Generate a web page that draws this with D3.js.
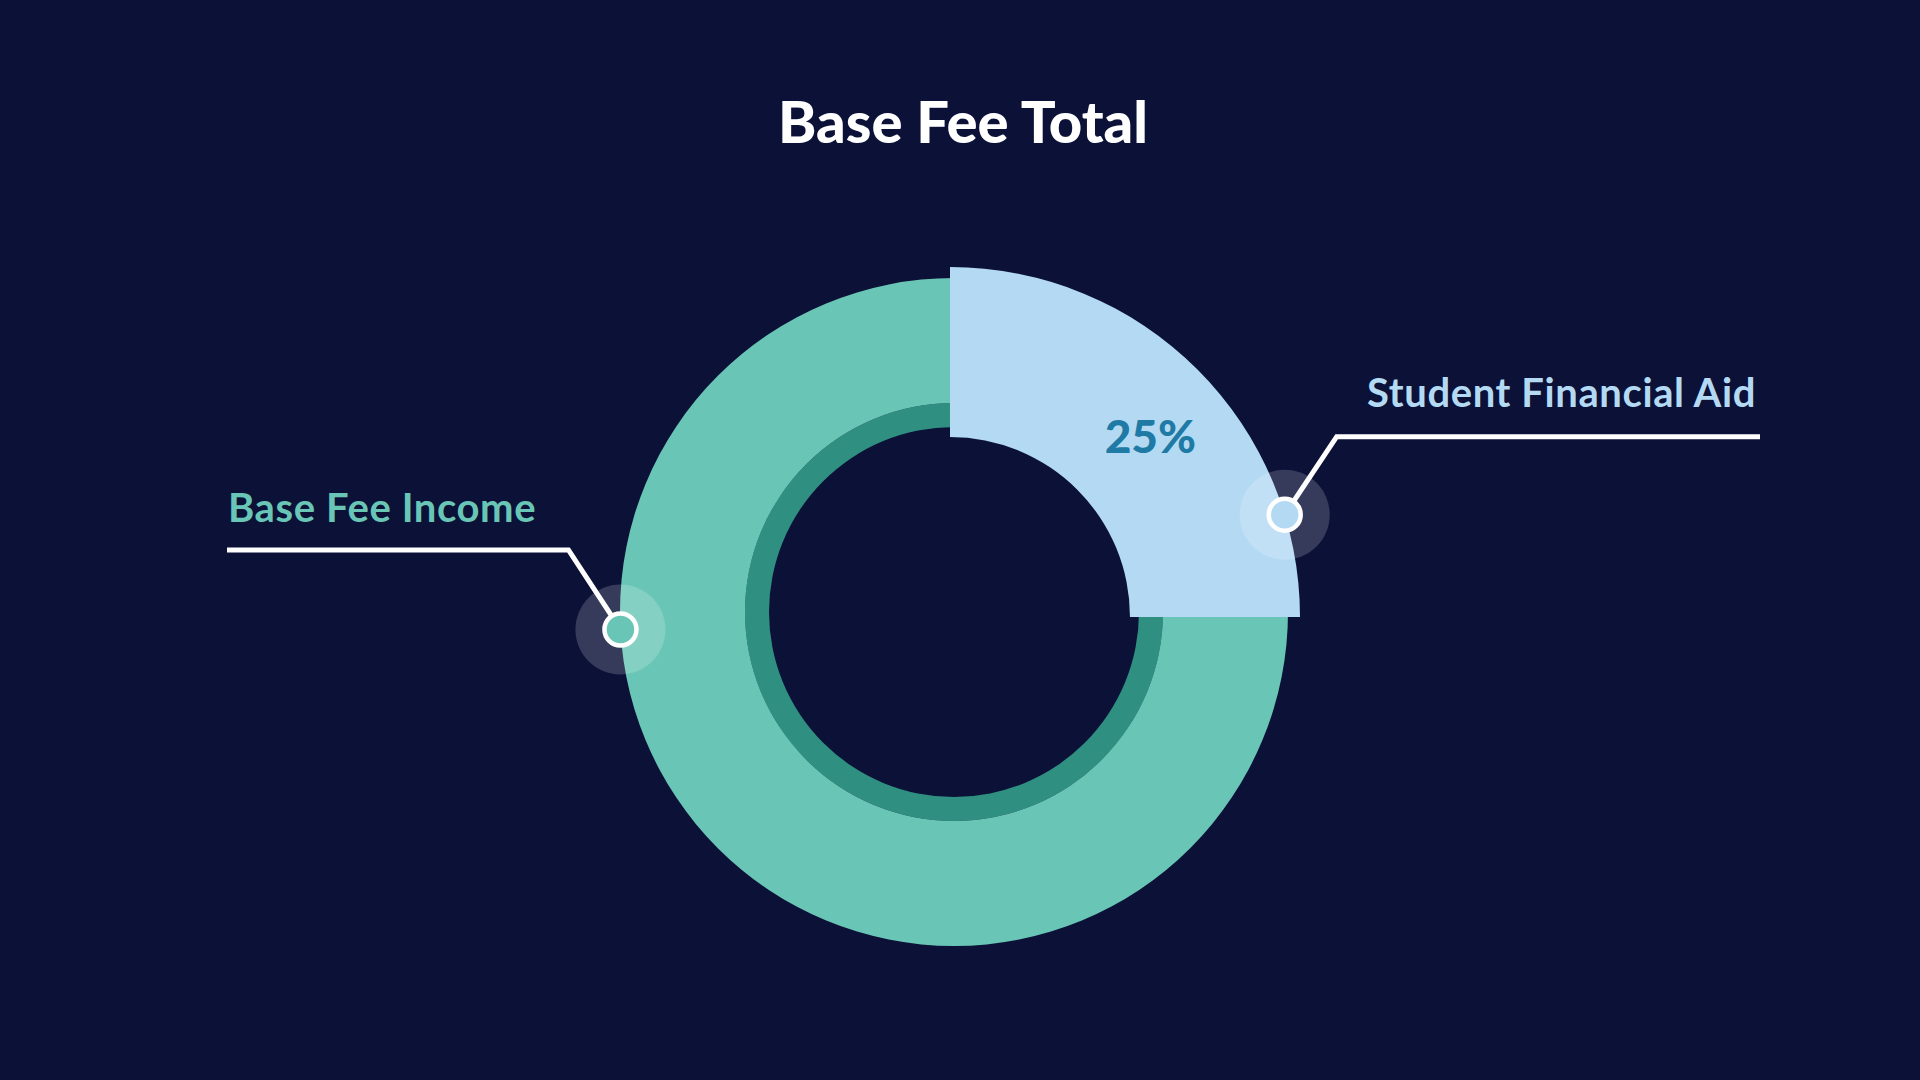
<!DOCTYPE html>
<html>
<head>
<meta charset="utf-8">
<script src="https://cdn.jsdelivr.net/npm/d3@7"></script>
<style>
  html, body { margin: 0; padding: 0; background: #0c1137; }
  svg { display: block; }
  text { font-family: Lato, "Noto Sans", sans-serif; }
</style>
</head>
<body>
<div class="chart"></div>
<script>
// chart data
var title = "Base Fee Total";
var categories = ["Student Financial Aid", "Base Fee Income"];
var shares = [25, 75];
var shareLabels = ["25%", ""];

var width = 1920, height = 1080;
var cx = 954, cy = 612;

var colors = {
  bg: "#0c1137",
  teal: "#69c6b6",
  tealDark: "#2f9082",
  blue: "#b4daf3",
  pct: "#1f7ba5"
};

var svg = d3.select(".chart").append("svg")
    .attr("width", width)
    .attr("height", height);

svg.append("rect")
    .attr("width", width)
    .attr("height", height)
    .attr("fill", colors.bg);

svg.append("text")
    .attr("x", 963)
    .attr("y", 143)
    .attr("text-anchor", "middle")
    .style("font-size", "58px")
    .style("font-weight", 900)
    .style("fill", "#ffffff")
    .text(title);

var data = categories.map(function(c, i) {
  return { name: c, value: shares[i], label: shareLabels[i] };
});

var pie = d3.pie()
    .sort(null)
    .value(function(d) { return d.value; });

var arcs = pie(data);

// the highlighted slice is bigger and nudged a bit
var slices = [
  { inner: 180, outer: 350, dx: -4, dy: 5, fill: colors.blue, calloutDeg: 73, side: 1, rise: 78, gap: 29.5 },
  { inner: 209, outer: 334, dx: 0, dy: 0, fill: colors.teal, calloutDeg: 267, side: -1, rise: 79.5, gap: 28 }
];

var g = svg.append("g")
    .attr("transform", "translate(" + cx + "," + cy + ")");

// thin inner ring
g.append("path")
    .attr("d", d3.arc().innerRadius(185).outerRadius(209)
      .startAngle(0).endAngle(2 * Math.PI)())
    .attr("fill", colors.tealDark);

// draw the big slice first so the highlight sits on top
var order = [1, 0];
order.forEach(function(i) {
  var a = arcs[i], s = slices[i];
  var arc = d3.arc().innerRadius(s.inner).outerRadius(s.outer);
  var sg = g.append("g")
      .attr("transform", "translate(" + s.dx + "," + s.dy + ")");
  sg.append("path")
      .attr("d", arc(a))
      .attr("fill", s.fill);
  if (a.data.label) {
    var c = arc.centroid(a);
    sg.append("text")
        .attr("x", c[0] + 13)
        .attr("y", c[1] + 23)
        .attr("text-anchor", "middle")
        .style("font-size", "46px")
        .style("font-weight", 900)
        .style("fill", colors.pct)
        .text(a.data.label);
  }
});

// callouts
var lineEnds = [1760, 227];
var labelColors = [colors.blue, colors.teal];

arcs.forEach(function(a, i) {
  var s = slices[i];
  var ang = s.calloutDeg * Math.PI / 180;
  var mx = cx + s.dx + s.outer * Math.sin(ang);
  var my = cy + s.dy - s.outer * Math.cos(ang);
  var ex = mx + s.side * 52, ey = my - s.rise;

  svg.append("circle")
      .attr("cx", mx).attr("cy", my).attr("r", 45)
      .attr("fill", "#ffffff")
      .attr("fill-opacity", 0.18);

  svg.append("path")
      .attr("d", d3.line()([[mx, my], [ex, ey], [lineEnds[i], ey]]))
      .attr("fill", "none")
      .attr("stroke", "#ffffff")
      .attr("stroke-width", 5);

  svg.append("circle")
      .attr("cx", mx).attr("cy", my).attr("r", 16)
      .attr("fill", s.fill)
      .attr("stroke", "#ffffff")
      .attr("stroke-width", 4.5);

  svg.append("text")
      .attr("x", s.side > 0 ? 1756 : 228)
      .attr("y", ey - s.gap)
      .attr("text-anchor", s.side > 0 ? "end" : "start")
      .style("font-size", "40px")
      .style("font-weight", 700)
      .style("letter-spacing", "0.6px")
      .style("fill", labelColors[i])
      .text(a.data.name);
});
</script>
</body>
</html>
